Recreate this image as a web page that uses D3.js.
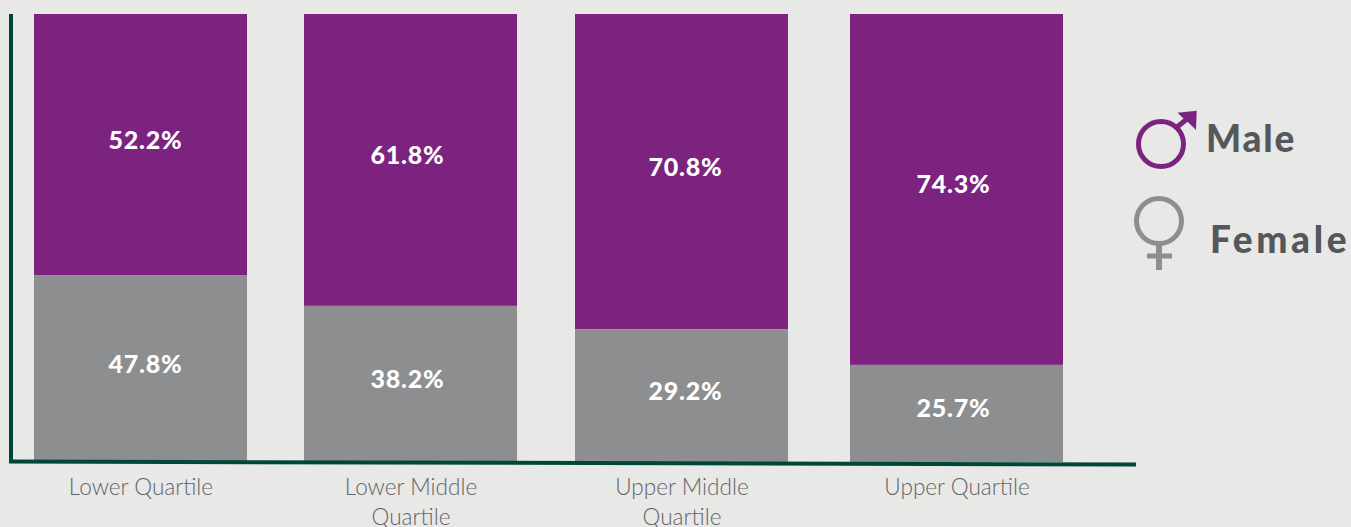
<!DOCTYPE html>
<html>
<head>
<meta charset="utf-8">
<script src="https://cdnjs.cloudflare.com/ajax/libs/d3/7.8.5/d3.min.js"></script>
<style>
  html, body { margin: 0; padding: 0; background: #e8e8e6; overflow: hidden; }
  svg { display: block; }
  .tick text { font-family: Lato, sans-serif; font-weight: 300; font-size: 22.6px; fill: #636568; }
  .value { font-family: Lato, sans-serif; font-weight: 900; font-size: 25px; fill: #fff; text-anchor: middle; letter-spacing: 0.8px; }
  .legend { font-family: Lato, sans-serif; font-weight: 900; font-size: 37px; fill: #55585a; }
</style>
</head>
<body>
<svg id="chart" width="1351" height="527"></svg>
<script>
  var categories = ["Lower Quartile", "Lower Middle Quartile", "Upper Middle Quartile", "Upper Quartile"];
  // printed labels
  var maleLabels = [52.2, 61.8, 70.8, 74.3];
  var femaleLabels = [47.8, 38.2, 29.2, 25.7];
  // drawn height of the grey segment (it does not follow the printed labels)
  var femaleDrawn = [41.6, 34.7, 29.5, 21.5];

  var purple = "#7c2380",
      grey = "#8d8e90",
      axisGreen = "#00473a";

  var svg = d3.select("#chart");
  var barWidth = 213;
  // the value labels sit a little off the bar centre in the original
  var labelShift = [5, -3, 4, -3];

  // gaps between the bars are not quite even in the original
  var x = d3.scaleOrdinal().domain(categories).range([34, 304, 575, 850]);
  var y = d3.scaleLinear().domain([0, 100]).range([461, 14]);

  var rows = categories.map(function (c, i) {
    return { cat: c, drawn: femaleDrawn[i], male: maleLabels[i], female: femaleLabels[i], shift: labelShift[i] };
  });

  var bars = svg.append("g").selectAll("g").data(rows).enter().append("g");

  bars.append("rect")
      .attr("x", function (d) { return x(d.cat); })
      .attr("y", y(100))
      .attr("width", barWidth)
      .attr("height", function (d) { return y(d.drawn) - y(100); })
      .attr("fill", purple);

  bars.append("rect")
      .attr("x", function (d) { return x(d.cat); })
      .attr("y", function (d) { return y(d.drawn); })
      .attr("width", barWidth)
      .attr("height", function (d) { return y(0) - y(d.drawn) + 1; })
      .attr("fill", grey);

  bars.append("text")
      .attr("class", "value")
      .attr("x", function (d) { return x(d.cat) + barWidth / 2 + d.shift; })
      .attr("y", function (d) { return (y(100) + y(d.drawn)) / 2 + 4; })
      .text(function (d) { return d.male.toFixed(1) + "%"; });

  bars.append("text")
      .attr("class", "value")
      .attr("x", function (d) { return x(d.cat) + barWidth / 2 + d.shift; })
      .attr("y", function (d) { return (y(d.drawn) + y(0)) / 2 + 4.5; })
      .text(function (d) { return d.female.toFixed(1) + "%"; });

  // tick labels from an axis on the bar centres
  var xCenter = d3.scaleOrdinal().domain(categories).range(categories.map(function (c) { return x(c) + barWidth / 2; }));
  var axis = svg.append("g")
      .attr("transform", "translate(0,472)")
      .call(d3.axisBottom(xCenter).tickSize(0).tickPadding(0));
  axis.select(".domain").remove();
  axis.selectAll(".tick text").each(function (d) {
    var t = d3.select(this), words = d.split(" ");
    t.text(null).attr("y", 23).attr("dy", null);
    // "Lower Middle" / "Quartile" wrap onto two lines
    if (words.length > 2) {
      t.append("tspan").attr("x", 0).text(words.slice(0, 2).join(" "));
      t.append("tspan").attr("x", 0).attr("dy", 30).text(words[2]);
    } else {
      t.text(d);
    }
  });

  // axes lines, the bottom one runs slightly downhill as in the original
  svg.append("line").attr("x1", 11).attr("x2", 11).attr("y1", y(100)).attr("y2", 463)
      .attr("stroke", axisGreen).attr("stroke-width", 4);
  svg.append("line").attr("x1", 9).attr("x2", 1136).attr("y1", 461.5).attr("y2", 464.5)
      .attr("stroke", axisGreen).attr("stroke-width", 4);

  // legend
  var male = svg.append("g").attr("fill", "none").attr("stroke", purple).attr("stroke-width", 5);
  male.append("circle").attr("cx", 1161).attr("cy", 144).attr("r", 22.5);
  male.append("line").attr("x1", 1177).attr("y1", 127).attr("x2", 1192).attr("y2", 115);
  male.append("path").attr("d", d3.line()([[1177.5, 112.7], [1196.7, 110.7], [1196, 130], [1190, 124], [1183, 118]]))
      .attr("fill", purple).attr("stroke", "none");
  svg.append("text").attr("class", "legend").attr("x", 1206).attr("y", 151.5)
      .attr("letter-spacing", 1.8).text("Male");

  var female = svg.append("g").attr("fill", "none").attr("stroke", grey).attr("stroke-width", 5);
  female.append("circle").attr("cx", 1159).attr("cy", 221).attr("r", 22.5);
  female.append("line").attr("x1", 1159).attr("x2", 1159).attr("y1", 244).attr("y2", 270).attr("stroke-width", 6);
  female.append("line").attr("x1", 1147).attr("x2", 1172).attr("y1", 256).attr("y2", 256);
  svg.append("text").attr("class", "legend").attr("x", 1210).attr("y", 252.5)
      .attr("letter-spacing", 3.6).text("Female");
</script>
</body>
</html>
